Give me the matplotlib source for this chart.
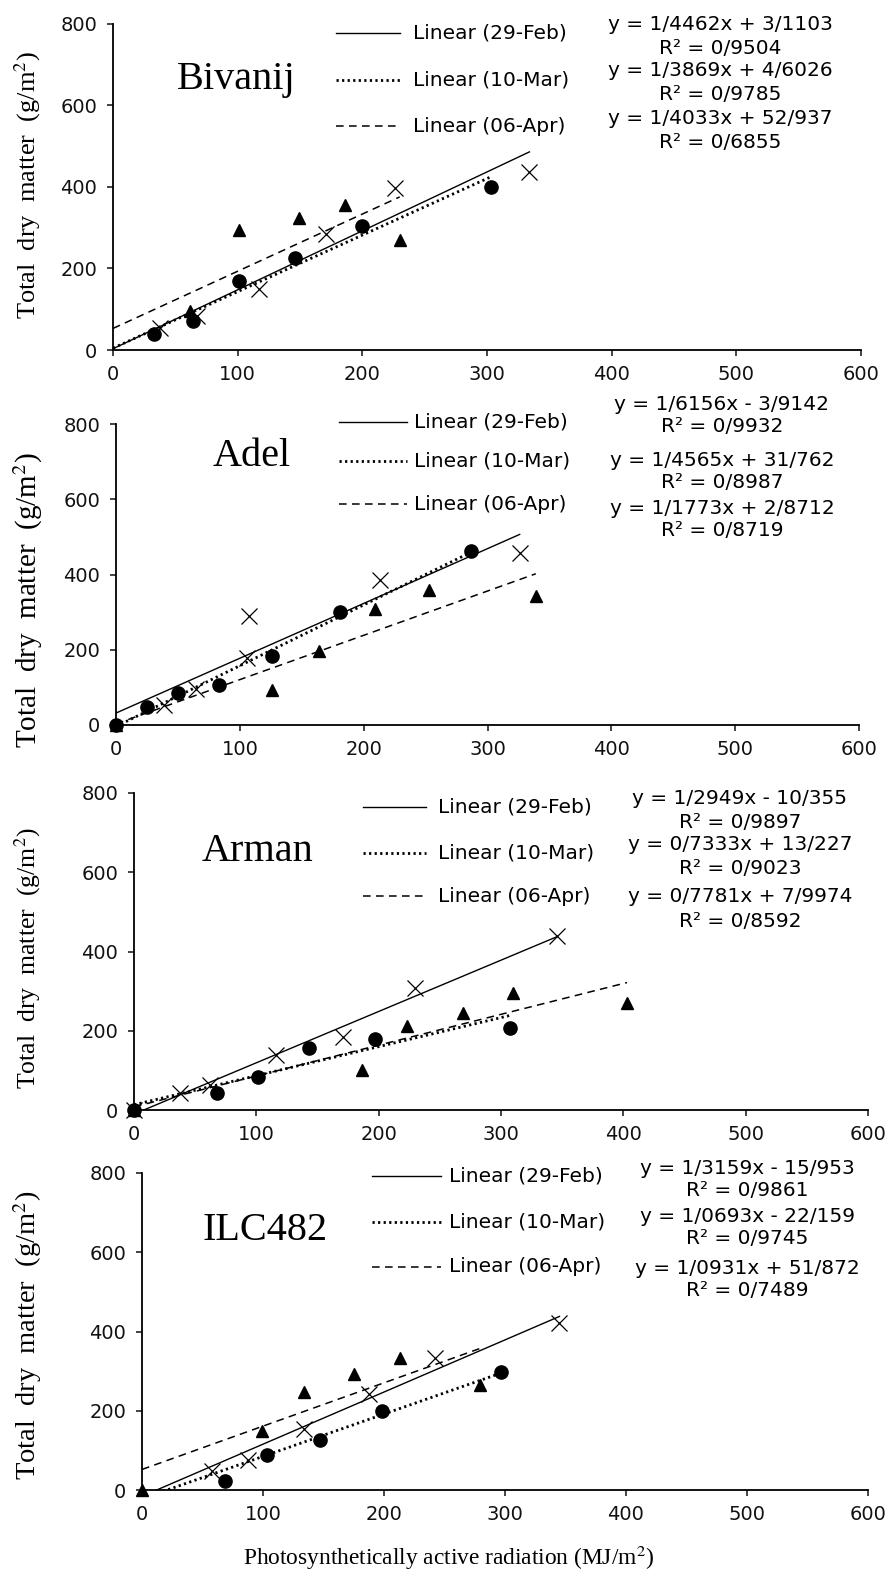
import numpy as np
import matplotlib.pyplot as plt
from matplotlib.lines import Line2D

plt.rcParams['mathtext.fontset'] = 'stix'

panel_names = ['Bivanij', 'Adel', 'Arman', 'ILC482']
legend_labels = ['Linear (29-Feb)', 'Linear (10-Mar)', 'Linear (06-Apr)']
x_ticks = [0, 100, 200, 300, 400, 500, 600]
y_ticks = [0, 200, 400, 600, 800]

# crosses -> solid trend, circles -> dotted trend, triangles -> dashed trend
bivanij_cross_x = [38, 67, 117, 171, 226, 334]
bivanij_cross_y = [54, 84, 150, 284, 397, 438]
bivanij_circle_x = [33, 64, 101, 146, 200, 303]
bivanij_circle_y = [39, 72, 170, 226, 304, 399]
bivanij_tri_x = [62, 101, 149, 186, 230]
bivanij_tri_y = [96, 295, 325, 355, 271]

adel_cross_x = [39, 65, 106, 107, 213, 326]
adel_cross_y = [54, 95, 177, 290, 386, 458]
adel_circle_x = [0, 25, 50, 83, 126, 181, 287]
adel_circle_y = [0, 47, 84, 106, 183, 300, 462]
adel_tri_x = [0, 126, 164, 209, 253, 339]
adel_tri_y = [0, 93, 196, 307, 358, 344]

arman_cross_x = [0, 38, 62, 116, 171, 230, 346]
arman_cross_y = [0, 44, 63, 140, 185, 308, 439]
arman_circle_x = [0, 68, 101, 143, 197, 307]
arman_circle_y = [0, 42, 84, 157, 178, 208]
arman_tri_x = [0, 186, 223, 269, 310, 403]
arman_tri_y = [0, 101, 212, 244, 296, 269]

ilc_cross_x = [58, 88, 134, 188, 242, 345]
ilc_cross_y = [49, 76, 153, 243, 333, 421]
ilc_circle_x = [69, 103, 147, 198, 297]
ilc_circle_y = [22, 89, 126, 200, 299]
ilc_tri_x = [0, 99, 134, 175, 213, 279]
ilc_tri_y = [0, 148, 248, 292, 333, 265]

# trend lines (slope, intercept): solid, dotted, dashed
bivanij_fit = [(1.4462, 3.1103), (1.3869, 4.6026), (1.4033, 52.937)]
adel_fit = [(1.4565, 31.762), (1.6156, -3.9142), (1.1773, 2.8712)]
arman_fit = [(1.2949, -10.355), (0.7333, 13.227), (0.7781, 7.9974)]
ilc_fit = [(1.3159, -15.953), (1.0693, -22.159), (1.0931, 51.872)]

bivanij_eq = ['y = 1/4462x + 3/1103', 'R² = 0/9504', 'y = 1/3869x + 4/6026',
              'R² = 0/9785', 'y = 1/4033x + 52/937', 'R² = 0/6855']
adel_eq = ['y = 1/6156x - 3/9142', 'R² = 0/9932', 'y = 1/4565x + 31/762',
           'R² = 0/8987', 'y = 1/1773x + 2/8712', 'R² = 0/8719']
arman_eq = ['y = 1/2949x - 10/355', 'R² = 0/9897', 'y = 0/7333x + 13/227',
            'R² = 0/9023', 'y = 0/7781x + 7/9974', 'R² = 0/8592']
ilc_eq = ['y = 1/3159x - 15/953', 'R² = 0/9861', 'y = 1/0693x - 22/159',
          'R² = 0/9745', 'y = 1/0931x + 51/872', 'R² = 0/7489']

W, H = 889, 1578

def fx(x):
    return x / W

def fy(y):
    return 1 - y / H

# layout in figure pixels (left, right, y of 0, y of 800)
axes_px = [(113, 861, 350, 24), (116, 859, 725, 424),
           (134, 868, 1110, 793), (142, 868, 1490, 1173)]
legend_px = [(336, 400, 413, [33, 80, 126]),
             (339, 407, 414, [422, 461, 504]),
             (363, 426, 438, [807, 853, 896]),
             (372, 441, 449, [1176, 1222, 1267])]
eq_px = [(720, [25, 49, 71, 95, 118, 142]),
         (722, [404, 427, 461, 482, 509, 530]),
         (740, [798, 822, 845, 868, 897, 921]),
         (747, [1168, 1191, 1216, 1239, 1268, 1291])]
name_px = [(236, 80), (252, 456), (258, 851), (265, 1230)]
ylabel_pos = [(185, 19), (600, 21), (958, 18.5), (1335, 20.5)]

styles = [dict(ls='-', lw=1.0),
          dict(ls=(0, (0.8, 1.2)), lw=2.0),
          dict(ls=(0, (5, 3.5)), lw=1.1)]

panels = [
    (bivanij_cross_x, bivanij_cross_y, bivanij_circle_x, bivanij_circle_y,
     bivanij_tri_x, bivanij_tri_y, bivanij_fit, bivanij_eq),
    (adel_cross_x, adel_cross_y, adel_circle_x, adel_circle_y,
     adel_tri_x, adel_tri_y, adel_fit, adel_eq),
    (arman_cross_x, arman_cross_y, arman_circle_x, arman_circle_y,
     arman_tri_x, arman_tri_y, arman_fit, arman_eq),
    (ilc_cross_x, ilc_cross_y, ilc_circle_x, ilc_circle_y,
     ilc_tri_x, ilc_tri_y, ilc_fit, ilc_eq),
]

fig = plt.figure(figsize=(W / 100, H / 100), dpi=100)
serif = 'Liberation Serif'

for i, (cx, cy, ox, oy, tx, ty, fit, eq) in enumerate(panels):
    l, r, y0, y8 = axes_px[i]
    ax = fig.add_axes([fx(l), fy(y0), (r - l) / W, (y0 - y8) / H])
    ax.set_xlim(0, 600)
    ax.set_ylim(0, 800)
    ax.set_xticks(x_ticks)
    ax.set_yticks(y_ticks)
    for s in ['top', 'right']:
        ax.spines[s].set_visible(False)
    for s in ['left', 'bottom']:
        ax.spines[s].set_linewidth(1.3)
    ax.tick_params(direction='out', length=4.5, width=1.1, labelsize=14,
                   colors='#111111')
    ax.tick_params(axis='y', pad=7)
    ax.tick_params(axis='x', pad=6)

    # trend lines from 0 to the last x of each series
    for (a, b), xs, st in zip(fit, [cx, ox, tx], styles):
        xx = np.array([0, max(xs)])
        ax.plot(xx, a * xx + b, color='black', **st)

    ax.plot(cx, cy, 'x', color='black', ms=11, mew=0.9, clip_on=False, zorder=5)
    ax.plot(ox, oy, 'o', color='black', ms=9.5, clip_on=False, zorder=5)
    ax.plot(tx, ty, '^', color='black', ms=9, clip_on=False, zorder=5)

    # legend rows
    x0, x1, xt, rows = legend_px[i]
    for lab, yy, st in zip(legend_labels, rows, styles):
        fig.add_artist(Line2D([fx(x0), fx(x1)], [fy(yy), fy(yy)],
                              color='black', **st))
        fig.text(fx(xt), fy(yy), lab, fontsize=14.5, ha='left', va='center')

    xc, rows = eq_px[i]
    for s, yy in zip(eq, rows):
        fig.text(fx(xc), fy(yy), s, fontsize=14.5, ha='center', va='center')

    nx, ny = name_px[i]
    fig.text(fx(nx), fy(ny), panel_names[i], family=serif, fontsize=29,
             ha='center', va='center')

    ly, lsize = ylabel_pos[i]
    fig.text(fx(28), fy(ly), 'Total  dry  matter  (g/m$^2$)',
             family=serif, fontsize=lsize, rotation=90, ha='center', va='center')

fig.text(fx(449), fy(1558), 'Photosynthetically active radiation (MJ/m$^2$)',
         family=serif, fontsize=16.8, ha='center', va='center')

fig.savefig('out.png', dpi=100)
